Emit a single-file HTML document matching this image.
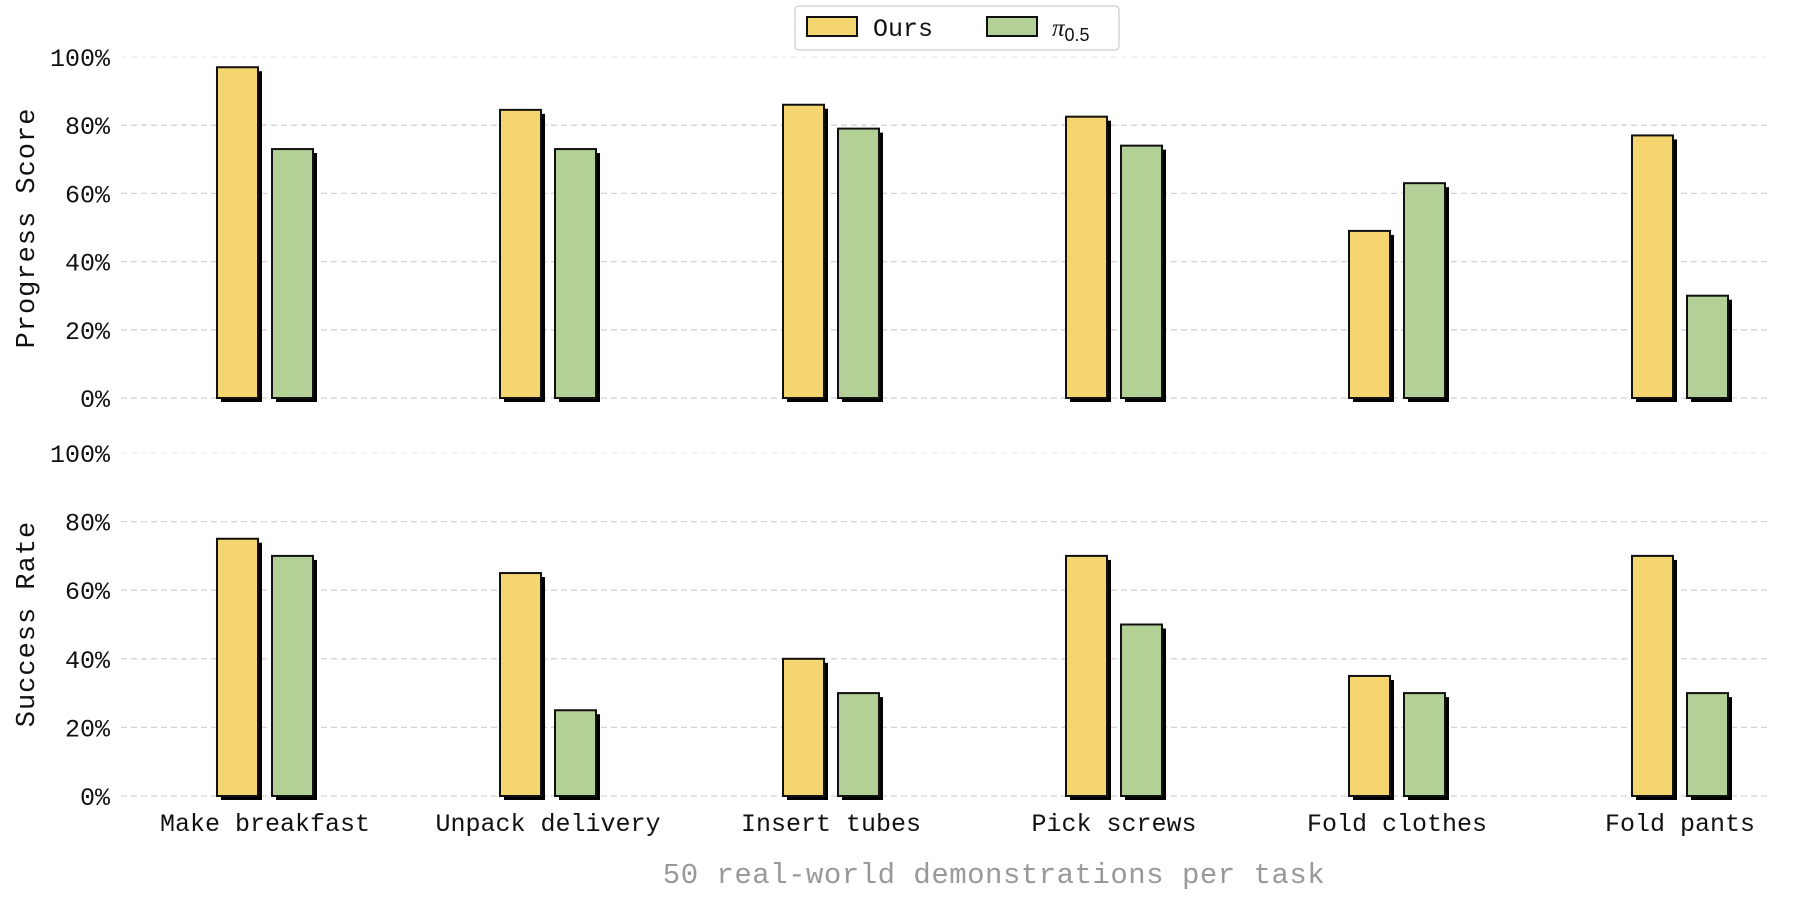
<!DOCTYPE html>
<html><head><meta charset="utf-8"><style>
html,body{margin:0;padding:0;background:#fff;}
svg{display:block;font-family:"Liberation Mono",monospace;}
</style></head><body>
<svg id="chart" width="1795" height="897" viewBox="0 0 1795 897" xmlns="http://www.w3.org/2000/svg">
<g id="grid"></g>
<g id="bars"></g>
<g id="labels"></g>
<text x="34" y="228" transform="rotate(-90 34 228)" text-anchor="middle" font-size="27" fill="#111" letter-spacing="1">Progress Score</text>
<text x="34" y="624" transform="rotate(-90 34 624)" text-anchor="middle" font-size="27" fill="#111" letter-spacing="1">Success Rate</text>
<text x="994" y="883" text-anchor="middle" font-size="29" fill="#999" letter-spacing="0.5">50 real-world demonstrations per task</text>
<g>
<rect x="795" y="6" width="324" height="44" rx="4" fill="#fff" stroke="#ccc" stroke-width="1.2"/>
<rect x="807" y="17" width="50" height="19" fill="#f5d56f" stroke="#111" stroke-width="2"/>
<text x="873" y="36" font-size="25" fill="#111">Ours</text>
<rect x="987" y="17" width="50" height="19" fill="#b3d096" stroke="#111" stroke-width="2"/>
<text x="1052" y="36" font-size="25" font-style="italic" fill="#111" font-family="Liberation Serif, serif">π<tspan font-size="18" dy="5" font-style="normal" font-family="Liberation Sans, sans-serif">0.5</tspan></text>
</g>
</svg>
<script>
const categories = ["Make breakfast","Unpack delivery","Insert tubes","Pick screws","Fold clothes","Fold pants"];
const progressOurs = [97,84.5,86,82.5,49,77];
const progressPi = [73,73,79,74,63,30];
const successOurs = [75,65,40,70,35,70];
const successPi = [70,25,30,50,30,30];
const yTicks = [0,20,40,60,80,100];

const NS="http://www.w3.org/2000/svg";
const grid=document.getElementById('grid'), bars=document.getElementById('bars'), labels=document.getElementById('labels');
function xCenter(i){return 265+i*283;}
const panels=[{y0:398,y100:57,ours:progressOurs,pi:progressPi,name:'progress'},{y0:796,y100:453,ours:successOurs,pi:successPi,name:'success'}];
function mk(tag,attrs,parent){const e=document.createElementNS(NS,tag);for(const k in attrs)e.setAttribute(k,attrs[k]);parent.appendChild(e);return e;}
panels.forEach(p=>{
  const y=v=>p.y0+(p.y100-p.y0)*v/100;
  yTicks.forEach(t=>{
    const l=mk('line',{x1:121,x2:1771,y1:y(t),y2:y(t),stroke:t===100?'#eee':'#d4d4d4','stroke-width':1.3,'stroke-dasharray':'6 4'},grid);
    
    
    const tx=mk('text',{x:110,y:y(t)+9,'text-anchor':'end','font-size':25,fill:'#111'},labels);
    tx.textContent=t+'%';
    
    
  });
  categories.forEach((c,i)=>{
    [[p.ours[i],'#f5d56f',-48,'ours'],[p.pi[i],'#b3d096',7,'pi05']].forEach(([v,col,off,s])=>{
      const x=xCenter(i)+off, top=y(v), h=p.y0-top;
      const sh=mk('rect',{x:x+4,y:top+4,width:41,height:h,fill:'#000'},bars);
      
      
      const r=mk('rect',{x:x,y:top,width:41,height:h,fill:col,stroke:'#111','stroke-width':2},bars);
      
      
    });
  });
});
categories.forEach((c,i)=>{
  const t=mk('text',{x:xCenter(i),y:831,'text-anchor':'middle','font-size':25,fill:'#111'},labels);
  t.textContent=c;
  
  
});
</script>
</body></html>
